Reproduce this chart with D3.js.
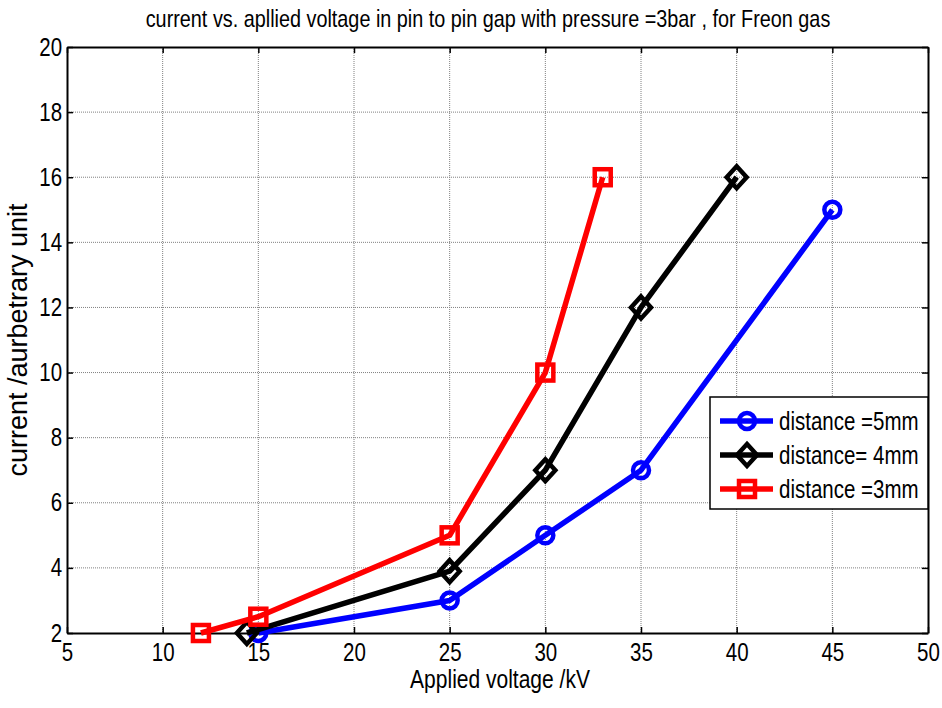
<!DOCTYPE html>
<html>
<head>
<meta charset="utf-8">
<script src="https://cdn.jsdelivr.net/npm/d3@7"></script>
<style>
  body { margin: 0; background: #fff; }
  text { font-family: "Liberation Sans", Arial, sans-serif; fill: #000; }
</style>
</head>
<body>
<div id="chart"></div>
<script>
// data
const xTicks = [5, 10, 15, 20, 25, 30, 35, 40, 45, 50];
const yTicks = [2, 4, 6, 8, 10, 12, 14, 16, 18, 20];

const volt5mm = [15, 25, 30, 35, 45];
const curr5mm = [2, 3, 5, 7, 15];
const volt4mm = [14.4, 25, 30, 35, 40];
const curr4mm = [2, 3.9, 7, 12, 16];
const volt3mm = [12, 15, 25, 30, 33];
const curr3mm = [2, 2.5, 5, 10, 16];

const seriesNames = ["distance =5mm", "distance= 4mm", "distance =3mm"];
const seriesColors = ["#0000ff", "#000000", "#ff0000"];
const seriesMarkers = ["circle", "diamond", "square"];

const titleText = "current vs. apllied voltage in pin to pin gap with pressure =3bar , for Freon gas";
const xLabel = "Applied voltage /kV";
const yLabel = "current /aurbetrary unit";

// the reference uses a narrow face, so squeeze the regular one horizontally
const narrow = 0.82;

// squeeze a centred text to a given width
function fitText(sel, cx, cy, target, rotate) {
  const len = sel.node().getComputedTextLength();
  const k = Math.min(1, target / len);
  sel.attr("transform", `translate(${cx},${cy})${rotate ? " rotate(-90)" : ""} scale(${k},1)`);
}

function renderChart() {
  const width = 942, height = 708;
  const margin = { top: 47, right: 14, bottom: 75, left: 67 };
  const w = width - margin.left - margin.right;
  const h = height - margin.top - margin.bottom;

  const svg = d3.select("#chart").append("svg")
    .attr("width", width)
    .attr("height", height);

  const g = svg.append("g").attr("transform", `translate(${margin.left},${margin.top})`);

  const x = d3.scaleLinear().domain([5, 50]).range([0, w]);
  const y = d3.scaleLinear().domain([2, 20]).range([h, 0]);

  // grid
  g.append("g").selectAll("line").data(xTicks.slice(1, -1)).enter().append("line")
    .attr("x1", d => x(d)).attr("x2", d => x(d))
    .attr("y1", 0).attr("y2", h)
    .attr("stroke", "#808080").attr("stroke-width", 1).attr("stroke-dasharray", "1,1");
  g.append("g").selectAll("line").data(yTicks.slice(1, -1)).enter().append("line")
    .attr("x1", 0).attr("x2", w)
    .attr("y1", d => y(d)).attr("y2", d => y(d))
    .attr("stroke", "#808080").attr("stroke-width", 1).attr("stroke-dasharray", "1,1");

  // axes (ticks inside, box on)
  const fontSize = "25px";
  const xAxis = g.append("g").attr("transform", `translate(0,${h})`)
    .call(d3.axisBottom(x).tickValues(xTicks).tickSizeInner(-6).tickSizeOuter(0).tickPadding(9));
  const yAxis = g.append("g")
    .call(d3.axisLeft(y).tickValues(yTicks).tickSizeInner(-6).tickSizeOuter(0).tickPadding(6));
  g.append("g")
    .call(d3.axisTop(x).tickValues(xTicks).tickSizeInner(-6).tickSizeOuter(0).tickFormat(""));
  g.append("g").attr("transform", `translate(${w},0)`)
    .call(d3.axisRight(y).tickValues(yTicks).tickSizeInner(-6).tickSizeOuter(0).tickFormat(""));

  g.selectAll(".domain").attr("stroke", "#000").attr("stroke-width", 2);
  g.selectAll(".tick line").attr("stroke", "#000").attr("stroke-width", 1.5);
  xAxis.selectAll("text").style("font-size", fontSize).attr("dy", "0.75em")
    .attr("transform", `scale(${narrow},1)`);
  yAxis.selectAll("text").style("font-size", fontSize)
    .attr("transform", `scale(${narrow},1)`);

  // series
  const series = [
    { xs: volt5mm, ys: curr5mm },
    { xs: volt4mm, ys: curr4mm },
    { xs: volt3mm, ys: curr3mm }
  ];

  const line = d3.line().x(d => x(d[0])).y(d => y(d[1]));

  function drawMarker(sel, type, color, cx, cy) {
    if (type === "circle") {
      sel.append("circle").attr("cx", cx).attr("cy", cy).attr("r", 8)
        .attr("fill", "none").attr("stroke", color).attr("stroke-width", 4.5);
    } else if (type === "diamond") {
      sel.append("path")
        .attr("d", `M${cx},${cy - 11}L${cx + 10},${cy}L${cx},${cy + 11}L${cx - 10},${cy}Z`)
        .attr("fill", "none").attr("stroke", color).attr("stroke-width", 4.5);
    } else {
      sel.append("rect").attr("x", cx - 8).attr("y", cy - 8).attr("width", 16).attr("height", 16)
        .attr("fill", "none").attr("stroke", color).attr("stroke-width", 4.5);
    }
  }

  series.forEach((s, i) => {
    const pts = s.xs.map((v, j) => [v, s.ys[j]]);
    g.append("path").datum(pts)
      .attr("d", line)
      .attr("fill", "none")
      .attr("stroke", seriesColors[i])
      .attr("stroke-width", 5.5)
      .attr("stroke-linejoin", "round");
    const mg = g.append("g");
    pts.forEach(p => drawMarker(mg, seriesMarkers[i], seriesColors[i], x(p[0]), y(p[1])));
  });

  // legend
  const lg = svg.append("g").attr("transform", "translate(710,397)");
  lg.append("rect").attr("width", 218).attr("height", 112)
    .attr("fill", "#fff").attr("stroke", "#000").attr("stroke-width", 1.5);
  seriesNames.forEach((name, i) => {
    const ly = 24 + i * 34;
    lg.append("line").attr("x1", 10).attr("x2", 63).attr("y1", ly).attr("y2", ly)
      .attr("stroke", seriesColors[i]).attr("stroke-width", 5.5);
    drawMarker(lg, seriesMarkers[i], seriesColors[i], 37, ly);
    lg.append("text").attr("transform", `translate(69,${ly}) scale(${narrow},1)`)
      .attr("dy", "0.35em")
      .style("font-size", fontSize).text(name);
  });

  // title and labels
  svg.append("text").attr("text-anchor", "middle").style("font-size", "24px").text(titleText)
    .call(fitText, 488, 27, 685, false);
  svg.append("text").attr("text-anchor", "middle").style("font-size", "25px").text(xLabel)
    .call(fitText, 500, 688, 180, false);
  svg.append("text").attr("text-anchor", "middle").style("font-size", "27px").text(yLabel)
    .call(fitText, 27, 340, 276, true);
}

renderChart();
</script>
</body>
</html>
